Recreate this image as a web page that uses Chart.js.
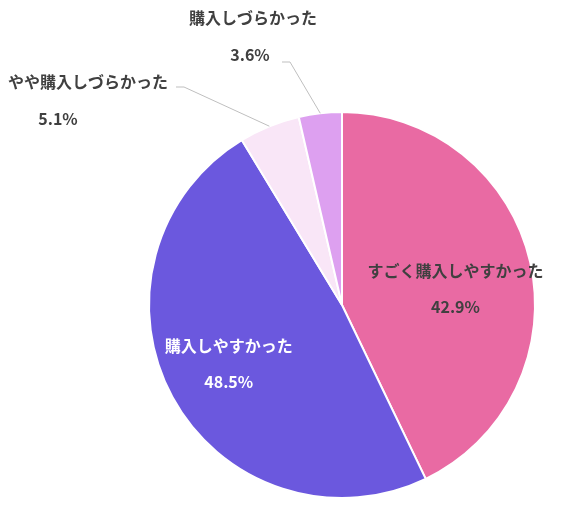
<!DOCTYPE html>
<html><head><meta charset="utf-8">
<script src="https://cdn.jsdelivr.net/npm/chart.js@4"></script>
<style>html,body{margin:0;background:#fff}#w{width:569px;height:506px}</style>
</head><body><div id="w"><canvas id="c"></canvas></div>
<script>
const categories=["すごく購入しやすかった","購入しやすかった","やや購入しづらかった","購入しづらかった"];
const values=[42.9,48.5,5.1,3.6];
const colors=["#E96AA3","#6B58DE","#F9E6F7","#DDA0F0"];
const font='bold 16px "Noto Sans CJK JP", sans-serif';
const labelPlugin={id:'lbl',afterDatasetsDraw(chart){
  const ctx=chart.ctx;const arcs=chart.getDatasetMeta(0).data;
  ctx.save();ctx.font=font;ctx.textAlign='center';ctx.textBaseline='middle';
  arcs.forEach((a,i)=>{
    const p=a.getProps(['x','y','startAngle','endAngle','outerRadius'],true);
    const mid=(p.startAngle+p.endAngle)/2;const txt=[categories[i],values[i].toFixed(1)+'%'];
    if(values[i]>10){
      const r=p.outerRadius*0.55;const x=p.x+Math.cos(mid)*r,y=p.y+Math.sin(mid)*r;
      ctx.fillStyle=i===1?'#fff':'#404040';
      ctx.fillText(txt[0],x+(i===0?10:-20),y-10);ctx.fillText(txt[1],x+(i===0?10:-20),y+26);
    }else{
      const sx=p.x+Math.cos(mid)*p.outerRadius,sy=p.y+Math.sin(mid)*p.outerRadius;
      let ex,ey,hx,tx,ty;
      if(i===2){ex=p.x-158;ey=p.y-218;hx=ex-8;tx=88;ty=ey-5;}
      else{ex=p.x-52;ey=p.y-243;hx=ex-8;tx=253;ty=p.y-287;}
      ctx.strokeStyle='#bfbfbf';ctx.lineWidth=1;ctx.beginPath();ctx.moveTo(sx,sy);ctx.lineTo(ex,ey);ctx.lineTo(hx,ey);ctx.stroke();
      ctx.fillStyle='#404040';ctx.fillText(txt[0],tx,ty);ctx.fillText(txt[1],tx-(i===2?30:3),ty+37);
    }
  });ctx.restore();}};
new Chart(document.getElementById('c'),{type:'pie',
 data:{labels:categories,datasets:[{data:values,backgroundColor:colors,borderColor:'#fff',borderWidth:2}]},
 options:{responsive:true,maintainAspectRatio:false,animation:false,
  layout:{padding:{left:148,right:33,top:111,bottom:7}},
  plugins:{legend:{display:false},tooltip:{enabled:false}}},
 plugins:[labelPlugin]});
</script></body></html>
